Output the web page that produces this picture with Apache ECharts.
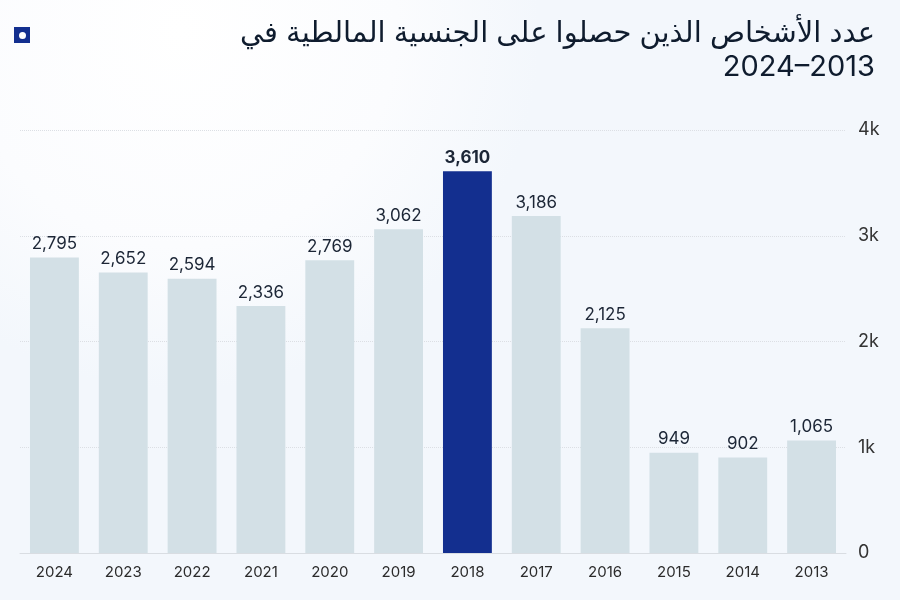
<!DOCTYPE html>
<html>
<head>
    <meta charset="utf-8">
    <title>Malta citizenship</title>
    <script src="https://cdn.jsdelivr.net/npm/echarts/dist/echarts.min.js"></script>
</head>
<body style="margin:0">
    <div id="main" style="width: 900px; height: 600px;"></div>

    <script type="text/javascript">
        var years = ['2024', '2023', '2022', '2021', '2020', '2019', '2018', '2017', '2016', '2015', '2014', '2013'];
        var people = [2795, 2652, 2594, 2336, 2769, 3062, 3610, 3186, 2125, 949, 902, 1065];
        var highlightYear = '2018';
        var titleLines = ['عدد الأشخاص الذين حصلوا على الجنسية المالطية في', '2024–2013'];

        var chart = echarts.init(document.getElementById('main'));

        var font = 'Inter, "Noto Sans", "DejaVu Sans", sans-serif';

        var barData = people.map(function (v, i) {
            var hi = years[i] === highlightYear;
            return {
                value: v,
                itemStyle: { color: hi ? '#132f8f' : '#d3e0e6' },
                label: { fontWeight: hi ? 'bold' : 'normal' }
            };
        });

        // two title blocks so both lines stay right aligned
        var titles = titleLines.map(function (t, i) {
            return {
                text: t,
                right: 20,
                top: 14 + i * 34,
                textStyle: {
                    fontFamily: font,
                    fontSize: 29,
                    fontWeight: 'normal',
                    color: '#0f1c2e'
                }
            };
        });

        var option = {
            backgroundColor: '#f3f7fc',
            graphic: [
                {
                    type: 'rect', z: -100, silent: true,
                    shape: { x: 0, y: 0, width: 900, height: 600 },
                    style: {
                        fill: new echarts.graphic.RadialGradient(0.2, 0.05, 0.6, [
                            { offset: 0, color: '#ffffff' },
                            { offset: 0.6, color: '#fbfcfe' },
                            { offset: 1, color: '#f3f7fc' }
                        ])
                    }
                },
                {
                    type: 'rect', left: 14, top: 27,
                    shape: { width: 16, height: 16 },
                    style: { fill: '#132f8f' }
                },
                {
                    type: 'circle', left: 19, top: 32,
                    shape: { r: 3.5 },
                    style: { fill: '#ffffff' }
                }
            ],
            title: titles,
            grid: { left: 20, right: 54, top: 130, bottom: 47 },
            xAxis: {
                type: 'category',
                data: years,
                axisTick: { show: false },
                axisLine: { lineStyle: { color: '#d9dde2', width: 1 } },
                axisLabel: { color: '#2b2b2b', fontSize: 15, fontFamily: font, margin: 12 }
            },
            yAxis: {
                type: 'value',
                position: 'right',
                min: 0,
                max: 4000,
                interval: 1000,
                axisLabel: {
                    color: '#333',
                    fontSize: 18,
                    fontFamily: font,
                    margin: 12,
                    formatter: function (v) { return v === 0 ? '0' : (v / 1000) + 'k'; }
                },
                splitLine: { lineStyle: { color: '#dcdfe4', type: 'dotted' } }
            },
            series: [
                {
                    type: 'bar',
                    data: barData,
                    barCategoryGap: '29%',
                    label: {
                        show: true,
                        position: 'top',
                        distance: 5,
                        color: '#1c2636',
                        fontSize: 17,
                        fontFamily: font,
                        formatter: function (p) { return p.value.toLocaleString('en-US'); }
                    }
                }
            ]
        };

        chart.setOption(option);
    </script>
</body>
</html>
